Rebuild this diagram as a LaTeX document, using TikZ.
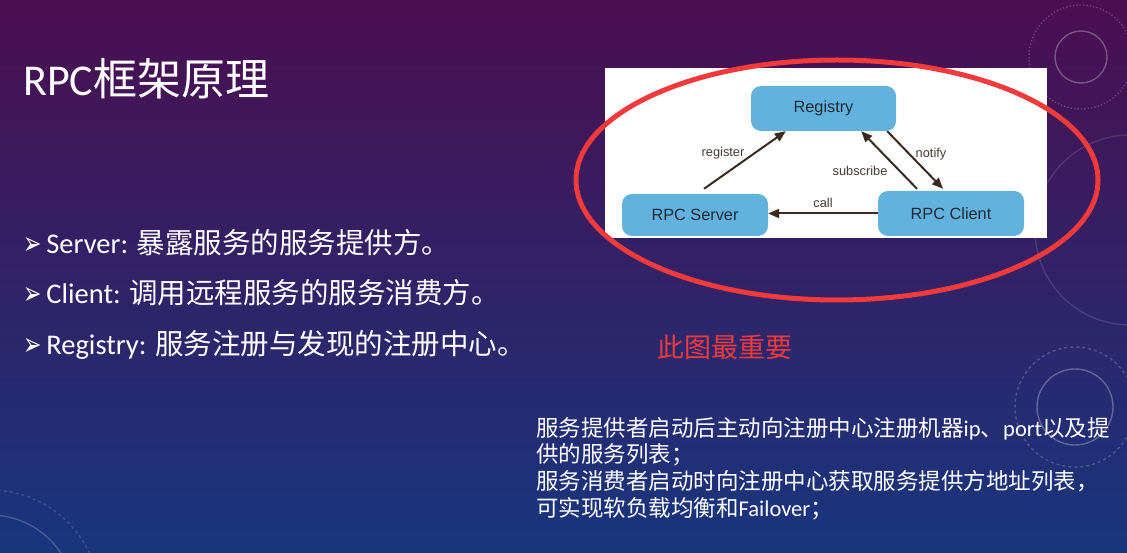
\documentclass[tikz,border=0pt]{standalone}
\usepackage{fontspec}
\setmainfont{Carlito}
\newfontfamily\cjk{Noto Sans CJK SC}
\newfontfamily\arial{Liberation Sans}
\newfontfamily\sym{DejaVu Sans}
\usetikzlibrary{arrows.meta,calc}
\newcommand\zh[1]{{\cjk #1}}
\newcommand\arrowbullet{\raisebox{-1pt}{\scalebox{1}[1.45]{\sym\fontsize{22}{24}\selectfont ➢}}\,}
\definecolor{bgtop}{HTML}{4B0E50}
\definecolor{bgmid}{HTML}{2F1D64}
\definecolor{bgbot}{HTML}{17367E}
\definecolor{boxblue}{HTML}{63B2DD}
\definecolor{boxtext}{HTML}{1E2A36}
\definecolor{arrowbrown}{HTML}{3B2A22}
\definecolor{labelbrown}{HTML}{4A3A34}
\definecolor{markred}{HTML}{F23A3A}
\tikzset{
  boxnode/.style={fill=boxblue, rounded corners=10pt, inner sep=0pt,
    text=boxtext, font=\arial\fontsize{16.3}{18}\selectfont},
  flow/.style={draw=arrowbrown, line width=2pt, -{Triangle[length=11pt,width=9pt]}},
  flowlabel/.style={text=labelbrown, font=\arial\fontsize{12.8}{14}\selectfont, inner sep=0pt},
  deco/.style={draw=white, draw opacity=0.28, line width=1.4pt},
  bullettext/.style={anchor=base west, inner sep=0pt, text=white, font=\fontsize{28.5}{30}\selectfont},
  notetext/.style={anchor=base west, inner sep=0pt, text=white, font=\fontsize{22.5}{24}\selectfont}
}
\begin{document}
\begin{tikzpicture}[x=1pt,y=-1pt]
  % slide background
  \shade[top color=bgtop, middle color=bgmid, bottom color=bgbot] (0,0) rectangle (1127,553);
  \useasboundingbox (0,0) rectangle (1127,553);

  % faint decorative rings on the right and lower left
  \draw[deco] (1081,57) circle[radius=26pt];
  \draw[deco, dotted, draw opacity=0.2] (1081,57) circle[radius=52pt];
  \draw[deco, draw opacity=0.12] (1130,230) circle[radius=95pt];
  \draw[deco] (1075,407) circle[radius=38pt];
  \draw[deco, dashed, draw opacity=0.2] (1075,407) circle[radius=60pt];
  \draw[deco, draw opacity=0.2] (-10,600) circle[radius=85pt];
  \draw[deco, dashed, draw opacity=0.15] (-10,600) circle[radius=110pt];

  % title
  \node[anchor=base west, inner sep=0pt, text=white, font=\fontsize{44}{46}\selectfont]
    (title) at (23,96) {RPC\zh{框架原理}};

  % bullet list
  \node[bullettext] (b1) at (23,254) {\arrowbullet Server: \zh{暴露服务的服务提供方。}};
  \node[bullettext] (b2) at (23,304) {\arrowbullet Client: \zh{调用远程服务的服务消费方。}};
  \node[bullettext] (b3) at (23,354) {\arrowbullet Registry: \zh{服务注册与发现的注册中心。}};

  % diagram panel
  \fill[white] (605,68) rectangle (1047,238);
  \node[boxnode, minimum width=145pt, minimum height=45pt] (reg) at (823.5,108.5) {Registry};
  \node[boxnode, minimum width=146pt, minimum height=42pt] (srv) at (695,215) {RPC Server};
  \node[boxnode, minimum width=146pt, minimum height=45pt] (cli) at (951,213.5) {RPC Client};

  \draw[flow] ([shift={(9,-5)}]srv.north) -- ([xshift=35pt]reg.south west);
  \draw[flow] ([shift={(-34,-2)}]cli.north) -- ([xshift=-35pt]reg.south east);
  \draw[flow] ([xshift=-9pt]reg.south east) -- ([shift={(-8,-2)}]cli.north);
  \draw[flow] (cli.west) -- (srv.east |- cli.west);

  \node[flowlabel] (lreg) at (723,153) {register};
  \node[flowlabel] (lsub) at (860,171) {subscribe};
  \node[flowlabel] (lnot) at (931,154) {notify};
  \node[flowlabel] (lcall) at (823,203) {call};

  % red highlight ring
  \draw[markred, line width=5pt] (837,180) ellipse[x radius=261pt, y radius=120pt];

  % emphasis note
  \node[anchor=base west, inner sep=0pt, text=markred, font=\cjk\fontsize{27}{29}\selectfont]
    (key) at (657,357) {此图最重要};

  % explanation
  \node[notetext] (n1) at (536,436) {\zh{服务提供者启动后主动向注册中心注册机器}ip\zh{、}port\zh{以及提}};
  \node[notetext] (n2) at (536,462) {\zh{供的服务列表；}};
  \node[notetext] (n3) at (536,489) {\zh{服务消费者启动时向注册中心获取服务提供方地址列表，}};
  \node[notetext] (n4) at (536,516) {\zh{可实现软负载均衡和}Failover\zh{；}};
\end{tikzpicture}
\end{document}
